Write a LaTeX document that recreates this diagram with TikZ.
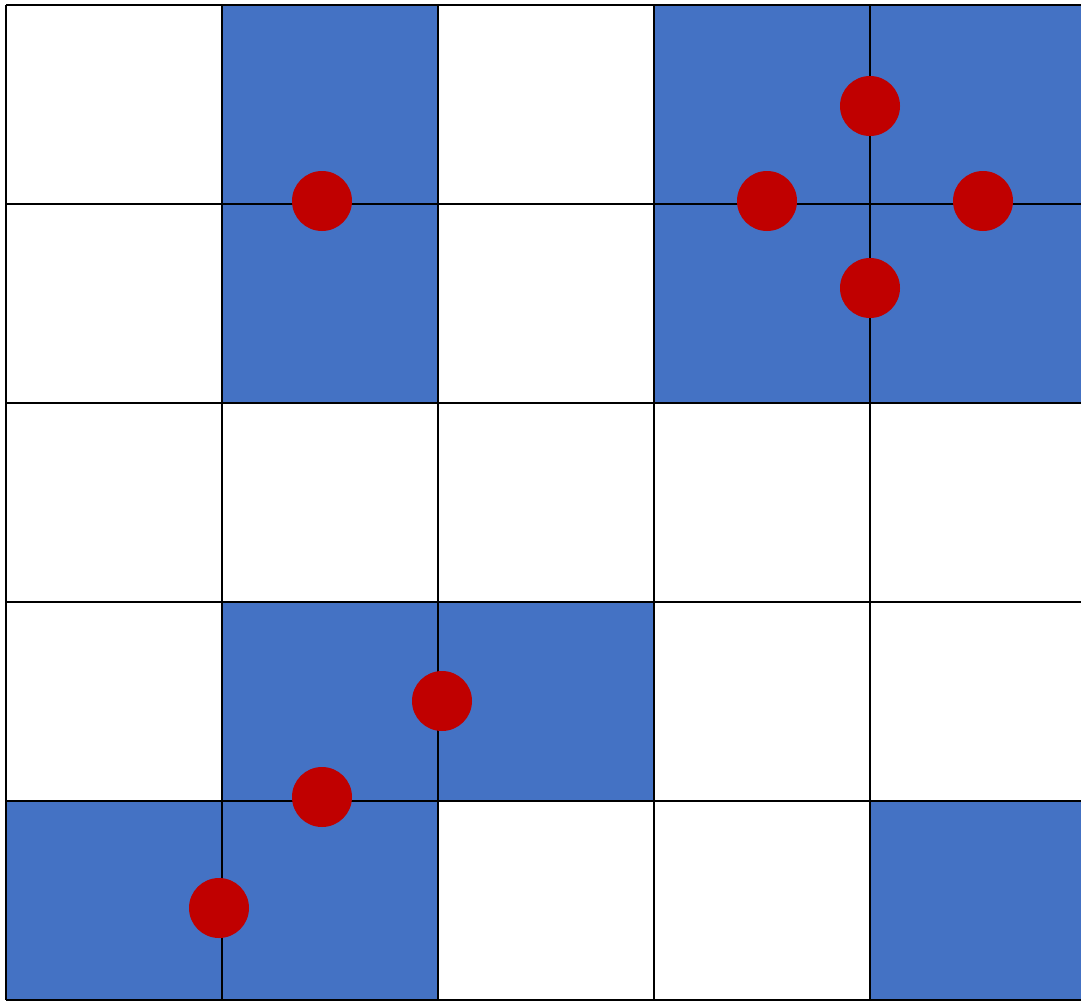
\documentclass[tikz,border=0pt]{standalone}
\definecolor{cellblue}{HTML}{4472C4}
\definecolor{dotred}{HTML}{C00000}
\begin{document}
\begin{tikzpicture}[x=1pt,y=-1pt,
  dot/.style={circle,fill=dotred,inner sep=0pt,minimum size=60pt}]
  \useasboundingbox (0,0) rectangle (1081,1001);
  \clip (0,0) rectangle (1081,1001);
  % blue cells (column/row)
  \foreach \c/\r in {1/0,3/0,4/0,1/1,3/1,4/1,1/3,2/3,0/4,1/4,4/4}
    \fill[cellblue] (6+216*\c,5+199*\r) rectangle +(216,199);
  % grid
  \foreach \c in {0,...,5}
    \draw[line width=2.5pt] (6+216*\c,5) -- (6+216*\c,1000);
  \foreach \r in {0,...,5}
    \draw[line width=2.5pt] (6,5+199*\r) -- (1086,5+199*\r);
  % dots
  \node[dot] (a) at (322,201) {};
  \node[dot] (n) at (870,106) {};
  \node[dot] (w) at (767,201) {};
  \node[dot] (e) at (983,201) {};
  \node[dot] (s) at (870,288) {};
  \node[dot] (b1) at (442,701) {};
  \node[dot] (b2) at (322,797) {};
  \node[dot] (b3) at (219,908) {};
\end{tikzpicture}
\end{document}
